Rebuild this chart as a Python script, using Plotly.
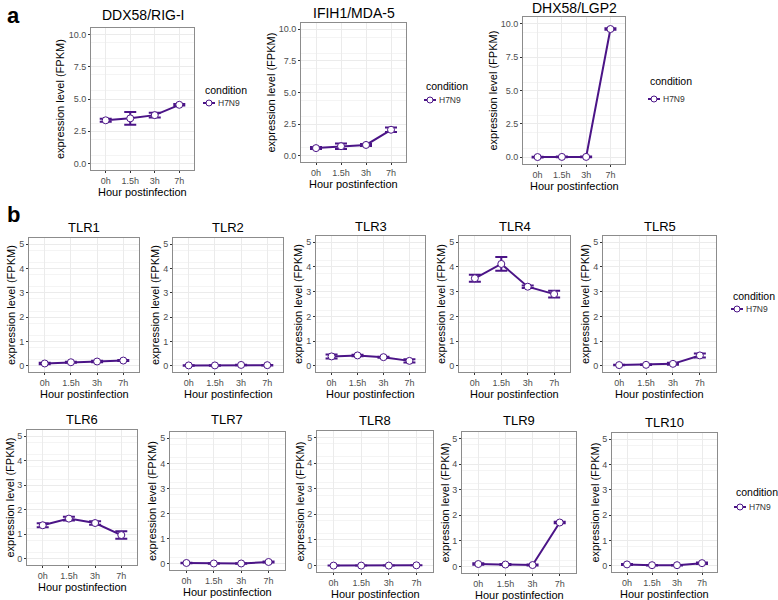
import plotly.graph_objects as go

# ---------------- data ----------------
hours = ["0h", "1.5h", "3h", "7h"]
condition = "H7N9"

ddx58_mean = [3.35, 3.50, 3.75, 4.55]
ddx58_err = [0.12, 0.50, 0.18, 0.06]
ifih1_mean = [0.60, 0.75, 0.85, 2.05]
ifih1_err = [0.08, 0.22, 0.08, 0.18]
dhx58_mean = [0.02, 0.03, 0.03, 9.60]
dhx58_err = [0.03, 0.03, 0.03, 0.06]

tlr1_mean = [0.10, 0.15, 0.18, 0.22]
tlr1_err = [0.03, 0.02, 0.03, 0.02]
tlr2_mean = [0.02, 0.02, 0.04, 0.03]
tlr2_err = [0.01, 0.01, 0.01, 0.01]
tlr3_mean = [0.38, 0.42, 0.35, 0.20]
tlr3_err = [0.08, 0.03, 0.02, 0.07]
tlr4_mean = [3.54, 4.12, 3.20, 2.90]
tlr4_err = [0.14, 0.28, 0.05, 0.14]
tlr5_mean = [0.03, 0.04, 0.08, 0.42]
tlr5_err = [0.01, 0.01, 0.04, 0.08]
tlr6_mean = [1.37, 1.64, 1.46, 0.97]
tlr6_err = [0.08, 0.08, 0.07, 0.15]
tlr7_mean = [0.03, 0.01, 0.01, 0.07]
tlr7_err = [0.01, 0.01, 0.01, 0.02]
tlr8_mean = [0.00, 0.00, 0.00, 0.01]
tlr8_err = [0.00, 0.00, 0.00, 0.00]
tlr9_mean = [0.10, 0.08, 0.06, 1.72]
tlr9_err = [0.03, 0.02, 0.02, 0.03]
tlr10_mean = [0.05, 0.02, 0.02, 0.10]
tlr10_err = [0.02, 0.01, 0.01, 0.03]

ticks_a = [0, 2.5, 5, 7.5, 10]
ticklabels_a = ["0.0", "2.5", "5.0", "7.5", "10.0"]
ticks_b = [0, 1, 2, 3, 4, 5]
ticklabels_b = ["0", "1", "2", "3", "4", "5"]

# ---------------- layout helpers ----------------
W, H = 778, 600
PURPLE = "#4B1487"
FONT = "Liberation Sans, Arial, sans-serif"


def px(x):
    return x / W


def py(y):
    return 1 - y / H


# name, mean, err, (left, right, top, bottom), title_y, kind, legend pos
panels = [
    ("DDX58/RIG-I", ddx58_mean, ddx58_err, (91, 194, 28, 170), 15, "a", (203, 90, 103)),
    ("IFIH1/MDA-5", ifih1_mean, ifih1_err, (301, 406, 23, 162), 13, "a", (424, 86, 100)),
    ("DHX58/LGP2", dhx58_mean, dhx58_err, (523, 625, 17, 164), 8, "a", (648, 81, 99)),
    ("TLR1", tlr1_mean, tlr1_err, (29, 139, 238, 372), 227, "b", None),
    ("TLR2", tlr2_mean, tlr2_err, (173, 283, 238, 372), 227, "b", None),
    ("TLR3", tlr3_mean, tlr3_err, (316, 425, 236, 372), 226, "b", None),
    ("TLR4", tlr4_mean, tlr4_err, (459, 570, 236, 372), 226, "b", None),
    ("TLR5", tlr5_mean, tlr5_err, (603, 716, 236, 372), 226, "b", (731, 296, 309)),
    ("TLR6", tlr6_mean, tlr6_err, (27, 137, 430, 565), 419, "b", None),
    ("TLR7", tlr7_mean, tlr7_err, (170, 285, 432, 570), 419, "b", None),
    ("TLR8", tlr8_mean, tlr8_err, (317, 433, 431, 572), 420, "b", None),
    ("TLR9", tlr9_mean, tlr9_err, (462, 576, 432, 573), 420, "b", None),
    ("TLR10", tlr10_mean, tlr10_err, (612, 717, 433, 572), 422, "b", (734, 492, 507)),
]

fig = go.Figure()
annotations = []
shapes = []
layout_axes = {}

for i, (name, mean, err, box, title_y, kind, leg) in enumerate(panels, start=1):
    l, r, t, b = box
    xa = "x" if i == 1 else f"x{i}"
    ya = "y" if i == 1 else f"y{i}"
    fig.add_trace(go.Scatter(
        x=hours, y=mean, xaxis=xa, yaxis=ya,
        mode="lines+markers", name=condition, showlegend=False,
        line=dict(color=PURPLE, width=2),
        marker=dict(symbol="circle", size=7, color="white",
                    line=dict(color=PURPLE, width=1)),
        error_y=dict(type="data", array=err, visible=True,
                     color=PURPLE, thickness=2, width=6),
    ))
    if kind == "a":
        yrange = [-0.5, 10.5]
        tv, tt, minor_dt = ticks_a, ticklabels_a, 1.25
        ytitle_off = 31
    else:
        yrange = [-0.25, 5.25]
        tv, tt, minor_dt = ticks_b, ticklabels_b, 0.5
        ytitle_off = 18
    xkey = "xaxis" if i == 1 else f"xaxis{i}"
    ykey = "yaxis" if i == 1 else f"yaxis{i}"
    layout_axes[xkey] = dict(
        domain=[px(l), px(r)], anchor=ya, type="category",
        categoryorder="array", categoryarray=hours,
        range=[-0.6, 3.6], showgrid=True, gridcolor="#ebebeb", gridwidth=1,
        showline=True, mirror=True, linecolor="#8c8c8c", linewidth=1,
        ticks="outside", ticklen=2, tickcolor="#333333",
        tickfont=dict(size=9, color="#4d4d4d", family=FONT),
        zeroline=False, fixedrange=True,
    )
    layout_axes[ykey] = dict(
        domain=[py(b), py(t)], anchor=xa, range=yrange,
        tickmode="array", tickvals=tv, ticktext=tt,
        showgrid=True, gridcolor="#ebebeb", gridwidth=1,
        minor=dict(showgrid=True, gridcolor="#f4f4f4", dtick=minor_dt,
                   tick0=minor_dt / 2, gridwidth=1),
        showline=True, mirror=True, linecolor="#8c8c8c", linewidth=1,
        ticks="outside", ticklen=2, tickcolor="#333333",
        tickfont=dict(size=9, color="#4d4d4d", family=FONT),
        zeroline=False, fixedrange=True,
    )
    # panel title
    annotations.append(dict(
        x=px((l + r) / 2), y=py(title_y), xref="paper", yref="paper",
        text=name, showarrow=False, xanchor="center", yanchor="middle",
        font=dict(size=14 if kind == "a" else 13, color="black", family=FONT),
    ))
    # x axis title
    annotations.append(dict(
        x=px((l + r) / 2), y=py(b + 22), xref="paper", yref="paper",
        text="Hour postinfection", showarrow=False, xanchor="center",
        yanchor="middle", font=dict(size=11, color="black", family=FONT),
    ))
    # y axis title
    annotations.append(dict(
        x=px(l - ytitle_off), y=py((t + b) / 2), xref="paper", yref="paper",
        text="expression level (FPKM)", showarrow=False, textangle=-90,
        xanchor="center", yanchor="middle",
        font=dict(size=11, color="black", family=FONT),
    ))
    # legend (drawn manually)
    if leg is not None:
        lx, ly1, ly2 = leg
        annotations.append(dict(
            x=px(lx), y=py(ly1), xref="paper", yref="paper", text="condition",
            showarrow=False, xanchor="left", yanchor="middle",
            font=dict(size=10.5, color="black", family=FONT),
        ))
        annotations.append(dict(
            x=px(lx + 13), y=py(ly2), xref="paper", yref="paper", text=condition,
            showarrow=False, xanchor="left", yanchor="middle",
            font=dict(size=8.5, color="#333333", family=FONT),
        ))
        shapes.append(dict(
            type="line", xref="paper", yref="paper",
            x0=px(lx), x1=px(lx + 12), y0=py(ly2), y1=py(ly2),
            line=dict(color=PURPLE, width=2),
        ))
        shapes.append(dict(
            type="circle", xref="paper", yref="paper",
            x0=px(lx + 3), x1=px(lx + 9), y0=py(ly2 + 3), y1=py(ly2 - 3),
            fillcolor="white", line=dict(color=PURPLE, width=1),
        ))

# panel letters
annotations.append(dict(x=px(5), y=py(15), xref="paper", yref="paper", text="<b>a</b>",
                        showarrow=False, xanchor="left", yanchor="middle",
                        font=dict(size=22, color="black", family=FONT)))
annotations.append(dict(x=px(5), y=py(214), xref="paper", yref="paper", text="<b>b</b>",
                        showarrow=False, xanchor="left", yanchor="middle",
                        font=dict(size=22, color="black", family=FONT)))

fig.update_layout(
    width=W, height=H,
    margin=dict(l=0, r=0, t=0, b=0),
    paper_bgcolor="white", plot_bgcolor="white",
    showlegend=False,
    annotations=annotations, shapes=shapes,
    font=dict(family=FONT),
    **layout_axes,
)

# remove the default 8px page margin so the figure fills the window exactly
fig.write_html(
    "out.html",
    config={"displayModeBar": False},
    post_script="document.body.style.margin='0';document.body.style.overflow='hidden';",
)
